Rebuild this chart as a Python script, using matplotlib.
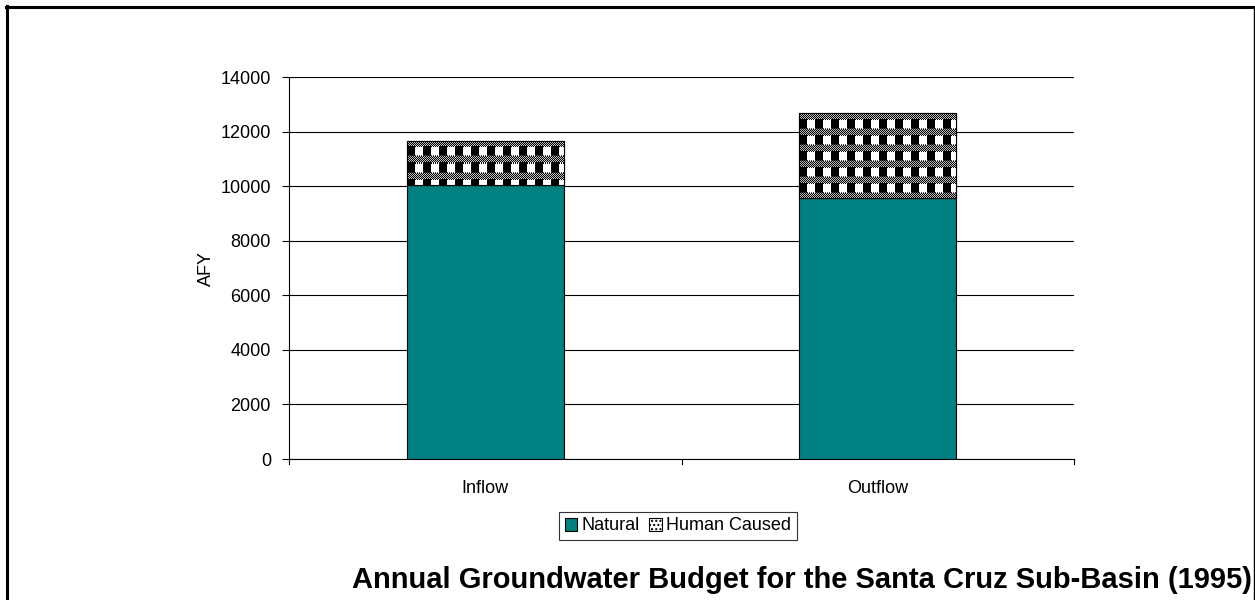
import numpy as np
import matplotlib
matplotlib.use("Agg")
import matplotlib.pyplot as plt
from matplotlib.patches import Patch, Rectangle
from matplotlib.lines import Line2D

plt.rcParams['font.family'] = ['Liberation Sans', 'DejaVu Sans']

# Budget components (acre-feet per year)
categories = ["Inflow", "Outflow"]
natural = [10040, 9565]
human_caused = [1625, 3115]
series_names = ["Natural", "Human Caused"]
y_ticks = [0, 2000, 4000, 6000, 8000, 10000, 12000, 14000]

TEAL = "#008080"
FS = 13

W, H = 1255, 600
fig = plt.figure(figsize=(W / 100, H / 100), dpi=100)
ax = fig.add_axes([289 / W, (H - 459) / H, (1074 - 289) / W, (459 - 77) / H])

x = np.arange(len(categories))
width = 0.4
bars_nat = ax.bar(x, natural, width, color=TEAL, edgecolor="black", linewidth=0.8, zorder=3)
bars_hum = ax.bar(x, human_caused, width, bottom=natural, color="white",
                  edgecolor="black", linewidth=0.8, zorder=3)

ax.set_xlim(-0.5, len(categories) - 0.5)
ax.set_ylim(0, 14000)
ax.set_yticks(y_ticks)
ax.set_yticklabels([str(v) for v in y_ticks])
ax.set_xticks(x)
ax.set_xticklabels(categories)
ax.tick_params(axis="x", length=0, pad=15, labelsize=FS)
ax.tick_params(axis="y", direction="out", length=5, width=0.8, pad=8, labelsize=FS)
for v in (-0.5, 0.5, 1.5):
    ax.plot([v, v], [0, -0.014 * 14000], color="black", lw=0.8, clip_on=False, zorder=4)

ax.grid(axis="y", color="black", linewidth=0.8, zorder=0)
ax.set_axisbelow(True)
for s in ("top", "right"):
    ax.spines[s].set_visible(False)
for s in ("left", "bottom"):
    ax.spines[s].set_linewidth(0.8)
ax.set_ylabel("AFY", fontsize=FS, labelpad=4)


def weave_tile():
    # 16x16 woven pattern: dithered grey band over a row of black/white blocks
    t = np.ones((16, 16))
    rr, cc = np.mgrid[0:16, 0:16]
    band = rr < 6
    t[band] = ((rr + cc) % 2)[band] * 0.75
    t[6:16, 0:8] = 0.0
    t[6:16, 8:16] = 1.0
    t[6, :] = np.where(cc[6] % 2 == 0, 0.0, t[6, :])
    t[15, :] = np.where(cc[15] % 2 == 0, 0.3, t[15, :])
    return t


fig.canvas.draw()
tile = weave_tile()
for rect in bars_hum.patches:
    x0, y0 = rect.get_x(), rect.get_y()
    x1, y1 = x0 + rect.get_width(), y0 + rect.get_height()
    (px0, py0), (px1, py1) = ax.transData.transform([(x0, y0), (x1, y1)])
    nw = max(int(round(px1 - px0)), 1)
    nh = max(int(round(py1 - py0)), 1)
    reps = (nh // 16 + 2, nw // 16 + 2)
    img = np.tile(tile, reps)[:nh, :nw]
    im = ax.imshow(img, cmap="gray", vmin=0, vmax=1, extent=(x0, x1, y0, y1),
                   origin="upper", interpolation="nearest", aspect="auto", zorder=3.5)
    im.set_clip_path(rect)
    ax.add_patch(Rectangle((x0, y0), x1 - x0, y1 - y0, fill=False,
                           edgecolor="black", linewidth=0.8, zorder=3.6))
ax.set_xlim(-0.5, len(categories) - 0.5)
ax.set_ylim(0, 14000)

handles = [Patch(facecolor=TEAL, edgecolor="black", linewidth=0.8),
           Patch(facecolor="white", edgecolor="black", linewidth=0.8, hatch="....")]
leg = fig.legend(handles, series_names, loc="center", bbox_to_anchor=(678 / W, 1 - 526 / H),
                 ncol=2, fontsize=FS, frameon=True, fancybox=False, edgecolor="black",
                 handlelength=0.7, handleheight=0.7, handletextpad=0.25, columnspacing=0.5,
                 borderpad=0.3, borderaxespad=0)
leg.get_frame().set_linewidth(0.8)

fig.text(802 / W, 1 - 580 / H, "Annual Groundwater Budget for the Santa Cruz Sub-Basin (1995)",
         ha="center", va="center", fontsize=21, fontweight="bold")

# Outer frame: left and top edges heavy, right edge light
fig.add_artist(Line2D([7 / W, 7 / W], [0, 1 - 6 / H], color="black", lw=2.2))
fig.add_artist(Line2D([6 / W, 1], [1 - 7 / H, 1 - 7 / H], color="black", lw=2.2))
fig.add_artist(Line2D([1253.5 / W, 1253.5 / W], [0, 1 - 7 / H], color="black", lw=1.0, zorder=5))

fig.savefig("out.png", dpi=100)
